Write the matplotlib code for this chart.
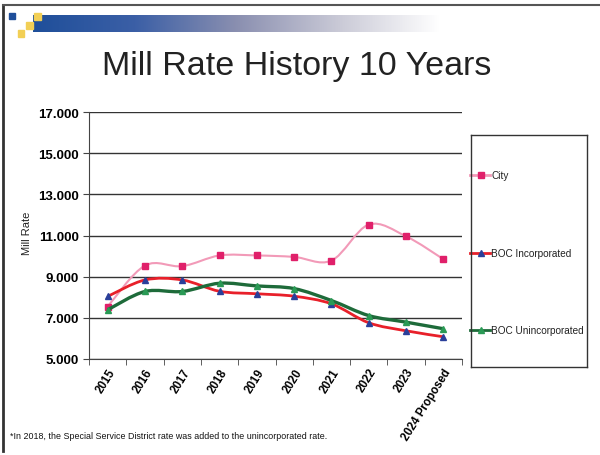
import numpy as np
import matplotlib
matplotlib.use("Agg")
import matplotlib.pyplot as plt
from matplotlib.patches import Rectangle, PathPatch
from matplotlib.path import Path
from matplotlib.colors import LinearSegmentedColormap

categories = ["2015", "2016", "2017", "2018", "2019", "2020", "2021", "2022", "2023", "2024 Proposed"]
city = [7.55, 9.54, 9.51, 10.03, 10.03, 9.96, 9.78, 11.53, 10.96, 9.85]
boc_inc = [8.04, 8.84, 8.84, 8.29, 8.17, 8.05, 7.68, 6.76, 6.37, 6.08]
boc_uninc = [7.39, 8.28, 8.28, 8.68, 8.55, 8.42, 7.84, 7.11, 6.79, 6.47]
yticks = [5, 7, 9, 11, 13, 15, 17]

plt.rcParams['font.family'] = ['Liberation Sans', 'DejaVu Sans']

W, H = 600, 456
fig = plt.figure(figsize=(6, 4.56), dpi=100)
fig.patch.set_facecolor("white")


def fx(px):
    return px / W


def fy(py):
    return 1 - py / H


def smooth_path(xs, ys):
    """Bezier path through the data points (Excel-style smoothed line)."""
    pts = np.column_stack([xs, ys]).astype(float)
    n = len(pts)
    verts = [pts[0]]
    codes = [Path.MOVETO]
    for i in range(n - 1):
        p0 = pts[i - 1] if i > 0 else pts[i]
        p1 = pts[i]
        p2 = pts[i + 1]
        p3 = pts[i + 2] if i + 2 < n else pts[i + 1]
        c1 = p1 + (p2 - p0) / 6.0
        c2 = p2 - (p3 - p1) / 6.0
        verts += [c1, c2, p2]
        codes += [Path.CURVE4] * 3
    return Path(verts, codes)


# slide decorations
deco = fig.add_axes([0, 0, 1, 1])
deco.set_xlim(0, W)
deco.set_ylim(H, 0)
deco.axis("off")
grad = np.linspace(0, 1, 256).reshape(1, -1)
cmap = LinearSegmentedColormap.from_list("g", ["#1f4f9a", "#3b5fa6", "#8a8fb0", "#c9c9d6", "#ffffff"])
deco.imshow(grad, cmap=cmap, extent=[33, 440, 33, 16], aspect="auto", zorder=1)
deco.add_patch(Rectangle((9, 14), 6, 6, color="#1f4f9a", zorder=2))
deco.add_patch(Rectangle((34, 14), 7, 7, color="#f2cf55", zorder=2))
deco.add_patch(Rectangle((26, 23), 7, 7, color="#f2cf55", zorder=2))
deco.add_patch(Rectangle((18, 31), 6, 7, color="#f2cf55", zorder=2))
deco.plot([3, 3], [6, 452], color="#333333", lw=2, zorder=2)
deco.plot([3, 600], [6, 6], color="#555555", lw=1.5, zorder=2)
deco.text(297, 66, "Mill Rate History 10 Years", fontsize=24.5, ha="center", va="center", color="#222222")
deco.text(10, 437, "*In 2018, the Special Service District rate was added to the unincorporated rate.",
          fontsize=6.4, ha="left", va="center", color="#111111")
deco.text(27, 233, "Mill Rate", fontsize=8, rotation=90, ha="center", va="center", color="#222222")

# main chart
left, right, top, bottom = 89, 462, 113, 360
ax = fig.add_axes([fx(left), fy(bottom), fx(right - left), (bottom - top) / H])
x = np.arange(len(categories))

series = [
    (city, "City", "#f29ab8", 1.5, "s", 5, "#e0206a", 3),
    (boc_inc, "BOC Incorporated", "#e8202a", 2.0, "^", 5, "#2a3f9a", 4),
    (boc_uninc, "BOC Unincorporated", "#1e6b3a", 2.4, "^", 4.5, "#2a9a55", 5),
]
for ys, lab, lc, lw, mk, ms, mc, z in series:
    ax.add_patch(PathPatch(smooth_path(x, ys), facecolor="none", edgecolor=lc, lw=lw, zorder=z))
    ax.plot(x, ys, linestyle="none", marker=mk, markersize=ms,
            markerfacecolor=mc, markeredgecolor=mc, label=lab, zorder=z + 0.5)

ax.set_xlim(-0.5, len(categories) - 0.5)
ax.set_ylim(5, 17)
ax.set_yticks(yticks)
ax.set_yticklabels([f"{v:.3f}" for v in yticks], fontweight="bold", fontsize=9.5)
ax.set_xticks(x)
ax.set_xticklabels(categories, rotation=58, ha="right", rotation_mode="anchor",
                   fontweight="bold", fontsize=8.3)
ax.set_xticks(np.arange(-0.5, len(categories)), minor=True)
ax.tick_params(axis="x", which="major", length=0, pad=5)
ax.tick_params(axis="x", which="minor", length=4, direction="out", color="#444444")
ax.tick_params(axis="y", length=4, direction="out", color="#444444")
ax.grid(axis="y", color="#333333", lw=1)
for s in ["top", "right"]:
    ax.spines[s].set_visible(False)
ax.spines["left"].set_color("#444444")
ax.spines["bottom"].set_color("#444444")
ax.set_facecolor("none")

# legend box
lax = fig.add_axes([fx(471), fy(368), fx(587 - 471), (368 - 136) / H])
lax.set_xlim(471, 587)
lax.set_ylim(368, 136)
lax.set_xticks([])
lax.set_yticks([])
lax.set_facecolor("none")
for s in lax.spines.values():
    s.set_color("#333333")
    s.set_linewidth(1)
for (ys, lab, lc, lw, mk, ms, mc, z), yy in zip(series, [176, 254, 331]):
    lax.plot([470, 490], [yy, yy], color=lc, lw=2, clip_on=False)
    lax.plot([481], [yy], marker=mk, color=mc, markersize=5, clip_on=False)
    lax.text(491, yy, lab, fontsize=7.2, ha="left", va="center", color="#222222")

fig.savefig("out.png", dpi=100)
